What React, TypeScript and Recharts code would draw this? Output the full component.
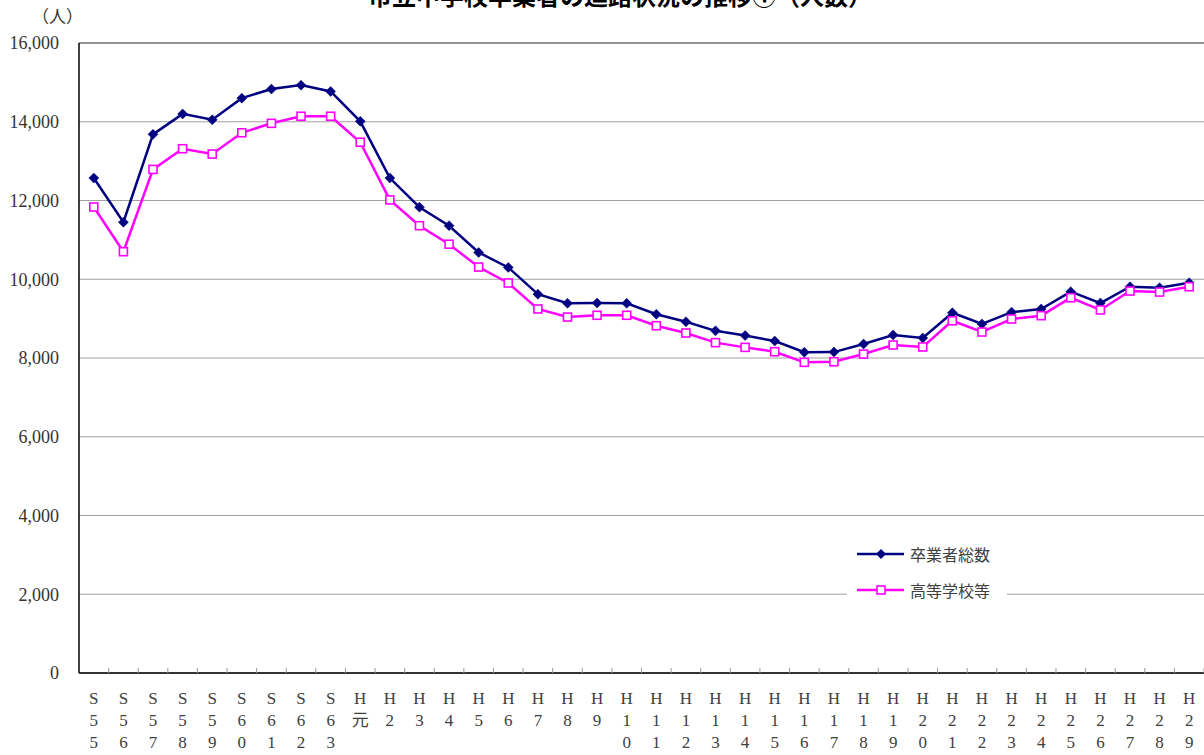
import React from 'react'
import {
  LineChart,
  Line,
  XAxis,
  YAxis,
  CartesianGrid,
  ReferenceLine,
  Legend,
} from 'recharts'

const nendo = [
  'S55', 'S56', 'S57', 'S58', 'S59', 'S60', 'S61', 'S62', 'S63', 'H元',
  'H2', 'H3', 'H4', 'H5', 'H6', 'H7', 'H8', 'H9', 'H10', 'H11',
  'H12', 'H13', 'H14', 'H15', 'H16', 'H17', 'H18', 'H19', 'H20', 'H21',
  'H22', 'H23', 'H24', 'H25', 'H26', 'H27', 'H28', 'H29',
]

const sotsugyo = [
  12570, 11450, 13680, 14200, 14050, 14600, 14830, 14930, 14770, 14010,
  12570, 11830, 11360, 10680, 10300, 9620, 9390, 9395, 9390, 9110,
  8920, 8690, 8570, 8430, 8145, 8150, 8355, 8585, 8510, 9150,
  8865, 9165, 9245, 9685, 9395, 9810, 9785, 9910,
]

const koko = [
  11835, 10700, 12790, 13315, 13180, 13720, 13960, 14140, 14140, 13480,
  12015, 11360, 10890, 10310, 9905, 9245, 9040, 9085, 9085, 8820,
  8635, 8390, 8270, 8160, 7890, 7905, 8100, 8330, 8280, 8945,
  8660, 8990, 9075, 9530, 9220, 9700, 9675, 9810,
]

const yTicks = [0, 2000, 4000, 6000, 8000, 10000, 12000, 14000, 16000]

const data = nendo.map((n, i) => ({ nendo: n, sotsugyo: sotsugyo[i], koko: koko[i] }))

const NAVY = '#000080'
const MAGENTA = '#FF00FF'
const serif = '"Liberation Serif", "DejaVu Serif", "Noto Sans CJK JP", serif'
const cjk = '"Noto Sans CJK JP", sans-serif'

const plotW = 1125
const step = plotW / nendo.length

const Diamond = (props: any) => {
  const { cx, cy } = props
  if (cx == null || cy == null) return null
  return (
    <path
      d={`M${cx},${cy - 5}L${cx + 5},${cy}L${cx},${cy + 5}L${cx - 5},${cy}Z`}
      fill={NAVY}
      stroke={NAVY}
      strokeWidth={0.5}
    />
  )
}

const Square = (props: any) => {
  const { cx, cy } = props
  if (cx == null || cy == null) return null
  return (
    <rect x={cx - 4} y={cy - 4} width={8} height={8} fill="#fff" stroke={MAGENTA} strokeWidth={1.6} />
  )
}

const NendoTick = (props: any) => {
  const { x, y, payload } = props
  const chars = Array.from(String(payload.value))
  return (
    <g>
      <line x1={x + step / 2} x2={x + step / 2} y1={y - 5} y2={y} stroke="#999" strokeWidth={1} />
      {chars.map((c, i) => (
        <text
          key={i}
          x={x}
          y={y + 25 + i * 22}
          dy="0.35em"
          textAnchor="middle"
          fontSize={17}
          fontFamily={serif}
          fill="#404040"
        >
          {c}
        </text>
      ))}
    </g>
  )
}

const LegendBox = () => (
  <div
    style={{
      background: '#fff',
      width: 160,
      height: 74,
      fontFamily: cjk,
      fontSize: 16,
      color: '#404040',
      position: 'relative',
    }}
  >
    <div style={{ position: 'absolute', left: 10, top: 7, display: 'flex', alignItems: 'center', height: 24 }}>
      <svg width={48} height={12}>
        <line x1={0} x2={47} y1={6} y2={6} stroke={NAVY} strokeWidth={2.5} />
        <path d="M24,1L29,6L24,11L19,6Z" fill={NAVY} />
      </svg>
      <span style={{ marginLeft: 5 }}>卒業者総数</span>
    </div>
    <div style={{ position: 'absolute', left: 10, top: 43, display: 'flex', alignItems: 'center', height: 24 }}>
      <svg width={48} height={12}>
        <line x1={0} x2={47} y1={6} y2={6} stroke={MAGENTA} strokeWidth={2.5} />
        <rect x={20} y={2} width={8} height={8} fill="#fff" stroke={MAGENTA} strokeWidth={1.6} />
      </svg>
      <span style={{ marginLeft: 5 }}>高等学校等</span>
    </div>
  </div>
)

export default function App() {
  return (
    <div
      style={{
        position: 'absolute',
        left: 0,
        top: 0,
        width: 1204,
        height: 755,
        overflow: 'hidden',
        background: '#fff',
      }}
    >
      <div
        style={{
          position: 'absolute',
          top: -17,
          left: 0,
          width: 1240,
          textAlign: 'center',
          fontFamily: cjk,
          fontWeight: 'bold',
          fontSize: 24,
          lineHeight: '24px',
          color: '#000',
          whiteSpace: 'nowrap',
        }}
      >
        市立中学校卒業者の進路状況の推移①（人数）
      </div>
      <div
        style={{
          position: 'absolute',
          left: 32,
          top: 3,
          fontFamily: cjk,
          fontSize: 17,
          color: '#333',
        }}
      >
        （人）
      </div>
      <LineChart width={1204} height={755} data={data} margin={{ top: 43, right: 0, left: 0, bottom: 0 }}>
        <CartesianGrid vertical={false} stroke="#a0a0a0" />
        <ReferenceLine y={16000} stroke="#555" strokeWidth={1} />
        <XAxis
          dataKey="nendo"
          height={82}
          interval={0}
          padding={{ left: step / 2, right: step / 2 }}
          tickLine={false}
          tickSize={0}
          tickMargin={0}
          axisLine={{ stroke: '#000', strokeWidth: 1.5 }}
          tick={<NendoTick />}
        />
        <YAxis
          width={79}
          domain={[0, 16000]}
          ticks={yTicks}
          interval={0}
          tickLine={false}
          tickSize={0}
          tickMargin={20}
          axisLine={{ stroke: '#000', strokeWidth: 1.5 }}
          tickFormatter={(v: number) => v.toLocaleString('en-US')}
          tick={{ fontSize: 18, fontFamily: serif, fill: '#333' }}
        />
        <Legend
          layout="vertical"
          align="center"
          verticalAlign="middle"
          wrapperStyle={{ position: 'absolute', left: 847, top: 535, width: 160, height: 74 }}
          content={<LegendBox />}
        />
        <Line
          dataKey="sotsugyo"
          name="卒業者総数"
          stroke={NAVY}
          strokeWidth={2.5}
          dot={<Diamond />}
          activeDot={false}
          isAnimationActive={false}
        />
        <Line
          dataKey="koko"
          name="高等学校等"
          stroke={MAGENTA}
          strokeWidth={2.5}
          dot={<Square />}
          activeDot={false}
          isAnimationActive={false}
        />
      </LineChart>
    </div>
  )
}
